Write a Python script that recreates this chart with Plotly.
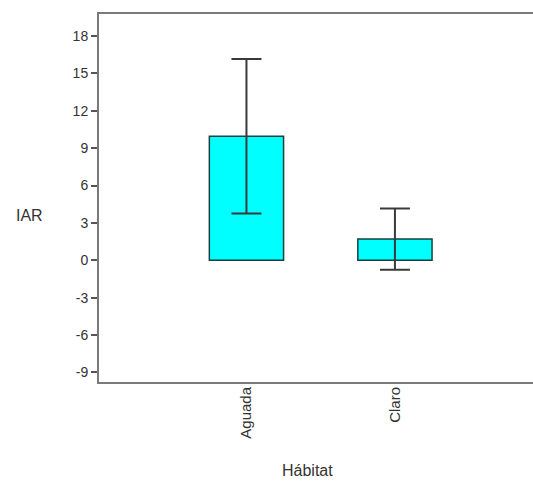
import plotly.graph_objects as go

categories = ["Aguada", "Claro"]
means = [9.95, 1.7]
errors = [6.2, 2.45]
y_ticks = [-9, -6, -3, 0, 3, 6, 9, 12, 15, 18]

fig = go.Figure()
fig.add_trace(go.Bar(
    x=categories, y=means, width=0.5,
    marker=dict(color="#00FFFF", line=dict(color="#1a3f3f", width=1.5)),
    error_y=dict(type="data", array=errors, visible=True, color="#3a3a3a", thickness=2, width=15),
))

W, H = 533, 485
L, T, B, R = 98, 13, 102, 0
pw = W - L - R
ph = H - T - B
bot_px = T + ph

def px_to_paper(xp, yp):
    return (xp - L) / pw, (bot_px - yp) / ph

ix, iy = px_to_paper(29, 215)
hx, hy = px_to_paper(307, 470)

axis_line = dict(color="#7a7a7a", width=2)

fig.update_layout(
    width=W, height=H,
    margin=dict(l=L, r=R, t=T, b=B, pad=0),
    plot_bgcolor="white", paper_bgcolor="white",
    showlegend=False,
    font=dict(family="Liberation Sans, Arial, sans-serif", color="#333333"),
    xaxis=dict(
        type="category", range=[-1.0, 1.93],
        showline=False, ticks="", tickangle=-90,
        tickfont=dict(size=15, color="#333333"),
        showgrid=False, zeroline=False,
    ),
    yaxis=dict(
        range=[-9.85, 19.85], tickvals=y_ticks, ticktext=[str(v) for v in y_ticks],
        showline=False,
        ticks="outside", ticklen=6, tickwidth=1.5, tickcolor="#555555",
        tickfont=dict(size=14, color="#333333"),
        showgrid=False, zeroline=False,
    ),
    shapes=[
        dict(type="line", xref="paper", yref="paper", x0=-0.002, x1=1.0, y0=1, y1=1,
             line=axis_line, layer="above"),
        dict(type="line", xref="paper", yref="paper", x0=-0.002, x1=1.0, y0=0, y1=0,
             line=axis_line, layer="above"),
        dict(type="line", xref="paper", yref="paper", x0=0, x1=0, y0=-0.003, y1=1.003,
             line=axis_line, layer="above"),
    ],
    annotations=[
        dict(text="IAR", xref="paper", yref="paper", x=ix, y=iy,
             showarrow=False, font=dict(size=16, color="#333333"), xanchor="center", yanchor="middle"),
        dict(text="Hábitat", xref="paper", yref="paper", x=hx, y=hy,
             showarrow=False, font=dict(size=16, color="#333333"), xanchor="center", yanchor="middle"),
    ],
)

fig.write_html(
    "out.html",
    config={"displayModeBar": False},
    post_script="document.body.style.margin='0';document.body.style.overflow='hidden';",
)
